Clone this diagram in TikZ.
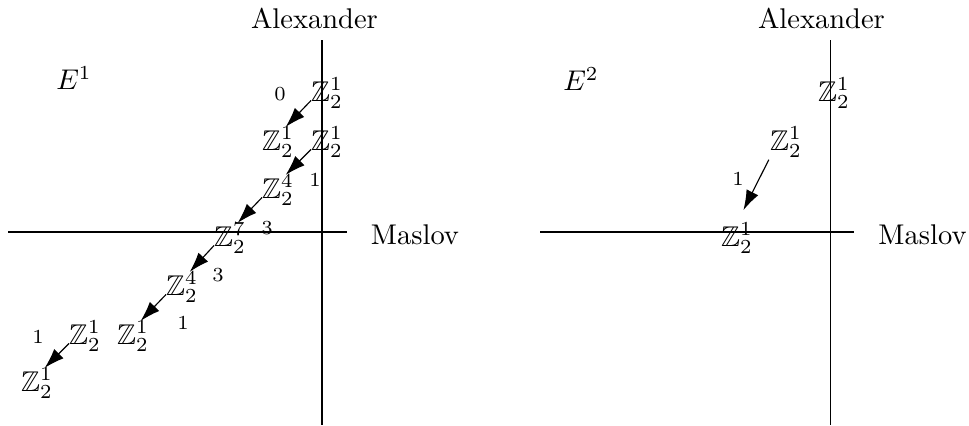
\documentclass[tikz,border=0pt]{standalone}
\usepackage{amssymb}
\usetikzlibrary{arrows.meta}
\begin{document}
\begin{tikzpicture}[x=0.3509pt,y=-0.3509pt,
  grp/.style={inner sep=0pt,outer sep=0pt},
  lbl/.style={inner sep=0pt,font=\scriptsize},
  txt/.style={inner sep=0pt},
  axis/.style={line width=0.4pt},
  arr/.style={line width=0.4pt,-{Latex[length=7pt,width=4.6pt]}}]
\useasboundingbox (0,0) rectangle (969,425);
% ---------- left panel ----------
\draw[axis] (8,232) -- (347,232);
\draw[axis] (322,40) -- (322,425);
\node[txt] (alexL) at (314.5,18) {Alexander};
\node[txt] (maslovL) at (415,235) {Maslov};
\node[txt] (E1) at (74,78) {$E^1$};
\node[grp] (a1) at (327,93) {$\mathbb{Z}_2^1$};
\node[grp] (b1) at (278,142) {$\mathbb{Z}_2^1$};
\node[grp] (b2) at (327,142) {$\mathbb{Z}_2^1$};
\node[grp] (c1) at (278,190) {$\mathbb{Z}_2^4$};
\node[grp] (d1) at (230,238) {$\mathbb{Z}_2^7$};
\node[grp] (e1) at (182,287) {$\mathbb{Z}_2^4$};
\node[grp] (f1) at (133,336) {$\mathbb{Z}_2^1$};
\node[grp] (f2) at (85,336) {$\mathbb{Z}_2^1$};
\node[grp] (g1) at (37,383) {$\mathbb{Z}_2^1$};
\node[lbl] (l0) at (280,94) {0};
\node[lbl] (l1) at (315,180) {1};
\node[lbl] (l2) at (267,228) {3};
\node[lbl] (l3) at (218,275) {3};
\node[lbl] (l4) at (183,323) {1};
\node[lbl] (l5) at (38,337) {1};
\draw[arr] (a1.205) -- (b1.63);
\draw[arr] (b2.205) -- (c1.63);
\draw[arr] (c1.205) -- (d1.63);
\draw[arr] (d1.205) -- (e1.63);
\draw[arr] (e1.205) -- (f1.63);
\draw[arr] (f2.205) -- (g1.63);
% ---------- right panel ----------
\draw[axis] (540,232) -- (854,232);
\draw[axis] (830.7,40) -- (830.7,425);
\node[txt] (alexR) at (821.5,18) {Alexander};
\node[txt] (maslovR) at (922.5,235) {Maslov};
\node[txt] (E2) at (581,79) {$E^2$};
\node[grp] (p1) at (834,93) {$\mathbb{Z}_2^1$};
\node[grp] (p2) at (786,142) {$\mathbb{Z}_2^1$};
\node[grp] (p3) at (737,238) {$\mathbb{Z}_2^1$};
\node[lbl] (r1) at (738,179) {1};
\draw[arr,shorten <=1pt,shorten >=5pt] (p2.south west) -- (p3.north);
\end{tikzpicture}
\end{document}
